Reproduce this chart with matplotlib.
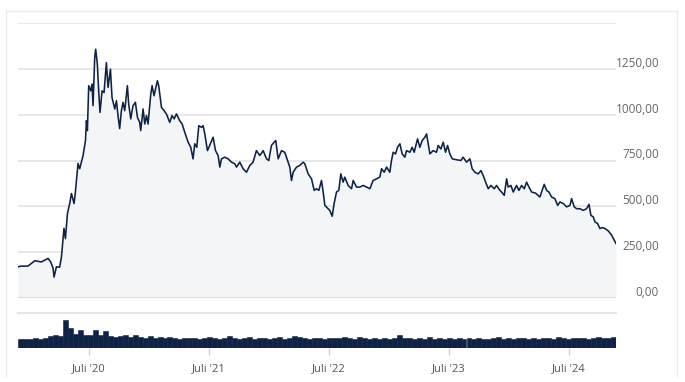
import numpy as np
import matplotlib
matplotlib.use("Agg")
import matplotlib.pyplot as plt
from matplotlib.transforms import ScaledTranslation
from matplotlib.lines import Line2D

plt.rcParams['font.family'] = ['Open Sans', 'DejaVu Sans']

# price data, decimal years / price
t_2020 = [2019.911, 2019.939, 2019.994, 2020.050, 2020.106, 2020.161, 2020.183, 2020.203, 2020.211, 2020.231,
          2020.258, 2020.273, 2020.294, 2020.306, 2020.323, 2020.342, 2020.356, 2020.378, 2020.389, 2020.411,
          2020.425, 2020.453, 2020.473, 2020.481, 2020.489, 2020.500, 2020.517, 2020.528, 2020.536, 2020.550,
          2020.558, 2020.572, 2020.583, 2020.594, 2020.611, 2020.628, 2020.647, 2020.661, 2020.681, 2020.694,
          2020.717, 2020.731, 2020.744, 2020.758, 2020.772, 2020.786, 2020.800, 2020.822, 2020.833, 2020.850,
          2020.869, 2020.889, 2020.906, 2020.925]
p_2020 = [170, 174, 174, 203, 197, 216, 197, 163, 114, 170,
          168, 225, 380, 324, 462, 516, 570, 515, 578, 734,
          705, 777, 859, 967, 913, 1158, 1130, 1167, 1049, 1311,
          1357, 1275, 1130, 1012, 1130, 1121, 1284, 1149, 1248, 1094,
          1031, 1076, 995, 924, 1022, 1067, 1022, 1158, 1058, 977,
          1049, 1067, 985, 958]

t_2021 = [2020.933, 2020.953, 2020.967, 2020.981, 2020.994, 2021.017, 2021.028, 2021.044, 2021.072, 2021.083,
          2021.106, 2021.128, 2021.147, 2021.175, 2021.194, 2021.211, 2021.231, 2021.258, 2021.278, 2021.300,
          2021.328, 2021.350, 2021.369, 2021.383, 2021.400, 2021.417, 2021.439, 2021.453, 2021.467, 2021.489,
          2021.508, 2021.536, 2021.556, 2021.578, 2021.592, 2021.606, 2021.633, 2021.661, 2021.689, 2021.717,
          2021.731, 2021.758, 2021.786, 2021.814, 2021.842, 2021.869, 2021.897, 2021.925]
p_2021 = [913, 1031, 949, 995, 949, 1112, 1158, 1103, 1185, 1158,
          1040, 1022, 1004, 958, 995, 977, 1004, 967, 949, 904,
          850, 822, 759, 841, 822, 940, 931, 940, 895, 804,
          832, 877, 804, 777, 714, 759, 768, 759, 741, 732,
          714, 741, 705, 686, 723, 741, 804, 777]

t_2022 = [2021.953, 2021.981, 2022.000, 2022.022, 2022.044, 2022.058, 2022.078, 2022.106, 2022.133, 2022.161,
          2022.175, 2022.189, 2022.203, 2022.231, 2022.258, 2022.286, 2022.300, 2022.328, 2022.356, 2022.378,
          2022.397, 2022.417, 2022.439, 2022.453, 2022.467, 2022.494, 2022.508, 2022.528, 2022.544, 2022.564,
          2022.583, 2022.600, 2022.619, 2022.633, 2022.661, 2022.689, 2022.703, 2022.731, 2022.758, 2022.786,
          2022.814, 2022.842, 2022.869, 2022.897]
p_2022 = [804, 759, 750, 832, 850, 859, 759, 804, 795, 741,
          714, 641, 686, 714, 723, 741, 732, 677, 650, 587,
          596, 587, 641, 578, 505, 487, 478, 446, 515, 578,
          587, 677, 632, 659, 614, 596, 641, 605, 605, 614,
          605, 596, 641, 650]

t_2023 = [2022.925, 2022.939, 2022.961, 2022.981, 2023.008, 2023.022, 2023.036, 2023.056, 2023.072, 2023.092,
          2023.111, 2023.133, 2023.147, 2023.175, 2023.194, 2023.211, 2023.239, 2023.258, 2023.278, 2023.300,
          2023.314, 2023.328, 2023.342, 2023.369, 2023.397, 2023.411, 2023.433, 2023.453, 2023.472, 2023.489,
          2023.508, 2023.528, 2023.564, 2023.600, 2023.619, 2023.647, 2023.675, 2023.694, 2023.717, 2023.744,
          2023.767, 2023.786, 2023.806, 2023.828, 2023.850, 2023.878, 2023.897, 2023.925]
p_2023 = [660, 705, 686, 714, 686, 750, 795, 786, 822, 841,
          786, 768, 804, 795, 822, 795, 868, 822, 859, 877,
          895, 841, 786, 804, 795, 832, 813, 850, 795, 832,
          786, 759, 754, 750, 768, 741, 759, 705, 686, 677,
          695, 668, 632, 596, 614, 596, 614, 587]

t_2024 = [2023.939, 2023.961, 2023.981, 2023.994, 2024.017, 2024.036, 2024.064, 2024.083, 2024.106, 2024.128,
          2024.147, 2024.167, 2024.189, 2024.222, 2024.258, 2024.294, 2024.314, 2024.333, 2024.356, 2024.383,
          2024.406, 2024.425, 2024.453, 2024.481, 2024.508, 2024.522, 2024.544, 2024.564, 2024.592, 2024.619,
          2024.647, 2024.667, 2024.683, 2024.703, 2024.717, 2024.739, 2024.758, 2024.778, 2024.800, 2024.828,
          2024.856, 2024.878, 2024.892]
p_2024 = [578, 560, 650, 605, 614, 578, 614, 587, 614, 596,
          632, 605, 578, 572, 551, 620, 587, 578, 551, 542,
          505, 524, 515, 497, 505, 542, 497, 487, 487, 478,
          487, 511, 451, 442, 415, 406, 379, 384, 379, 366,
          342, 315, 297]

# volume, two-week bins (relative units)
volume = [1.00, 1.05, 1.00, 1.10, 1.05, 1.10, 1.30, 1.50, 1.35, 3.10,
          2.20, 1.60, 2.00, 1.40, 1.50, 2.00, 1.40, 1.90, 1.30, 1.20,
          1.30, 1.50, 1.25, 1.40, 1.20, 1.15, 1.30, 1.10, 1.20, 1.10,
          1.25, 1.10, 1.05, 1.10, 1.15, 1.10, 1.05, 1.10, 1.20, 1.10,
          1.05, 1.15, 1.30, 1.10, 1.05, 1.10, 1.20, 1.05, 1.10, 1.15,
          1.05, 1.10, 1.25, 1.05, 1.10, 1.30, 1.20, 1.10, 1.05, 1.15,
          1.10, 1.05, 1.15, 1.10, 1.15, 1.25, 1.10, 1.05, 1.20, 1.10,
          1.05, 1.10, 1.05, 1.15, 1.05, 1.10, 1.45, 1.10, 1.15, 1.05,
          1.10, 1.05, 1.20, 1.05, 1.10, 1.05, 1.10, 1.05, 1.15, 1.05,
          1.10, 1.05, 1.10, 1.05, 1.05, 1.10, 1.20, 1.05, 1.10, 1.05,
          1.10, 1.15, 1.05, 1.10, 1.05, 1.15, 1.10, 1.05, 1.20, 1.10,
          1.05, 1.10, 1.15, 1.10, 1.05, 1.10, 1.20, 1.10, 1.15, 1.20]

y_ticks = [0, 250, 500, 750, 1000, 1250]
y_labels = ["0,00", "250,00", "500,00", "750,00", "1000,00", "1250,00"]
x_ticks = [2020.5, 2021.5, 2022.5, 2023.5, 2024.5]
x_labels = ["Juli '20", "Juli '21", "Juli '22", "Juli '23", "Juli '24"]

t = np.array(t_2020 + t_2021 + t_2022 + t_2023 + t_2024)
price = np.array(p_2020 + p_2021 + p_2022 + p_2023 + p_2024)
t0, t1 = t[0], t[-1]

navy = "#0e2245"
grid = "#e4e4e4"

W, H = 685, 382
fig = plt.figure(figsize=(W / 100, H / 100), dpi=100)

# outer frame
for xs, ys in [([6, 6], [376, 11]), ([6, 677], [11, 11]), ([677, 677], [11, 376])]:
    fig.add_artist(Line2D([x / W for x in xs], [1 - y / H for y in ys],
                          color="#ebebeb", lw=1))

ax = fig.add_axes([18 / W, 1 - 298 / H, 598 / W, 275 / H])
ax.fill_between(t, price, 0, color="#f4f5f7", lw=0)
ax.plot(t, price, color=navy, lw=1.15)
ax.set_xlim(t0, t1)
ax.set_ylim(0, 1500)
for v in y_ticks[1:] + [1500]:
    ax.axhline(v, color=grid, lw=1.2, zorder=0)
ax.axhline(0, color="#dddddd", lw=1.5, zorder=3)
for s in ax.spines.values():
    s.set_visible(False)
ax.set_xticks([])
ax.yaxis.tick_right()
ax.set_yticks(y_ticks)
ax.set_yticklabels(y_labels, fontsize=8.5, color="#666666")
ax.tick_params(axis="y", length=0, pad=31)
for lab in ax.get_yticklabels():
    lab.set_horizontalalignment("right")
    lab.set_transform(lab.get_transform() + ScaledTranslation(0, 7 / 100, fig.dpi_scale_trans))

# volume panel
axv = fig.add_axes([18 / W, 1 - 348 / H, 598 / W, 35 / H])
bw = (t1 - t0) / len(volume)
vt = t0 + bw * (np.arange(len(volume)) + 0.5)
axv.bar(vt, volume, width=bw, color=navy, edgecolor=navy, lw=0.4)
axv.set_xlim(t0, t1)
axv.set_ylim(0, 3.9)
axv.axhline(3.9, color=grid, lw=1.5, clip_on=False)
for s in axv.spines.values():
    s.set_visible(False)
axv.set_yticks([])
axv.set_xticks(x_ticks)
axv.set_xticklabels(x_labels, fontsize=8, color="#555555")
axv.tick_params(axis="x", length=5, width=1, color="#c9d5e2", pad=6)

fig.savefig("out.png", dpi=100)
